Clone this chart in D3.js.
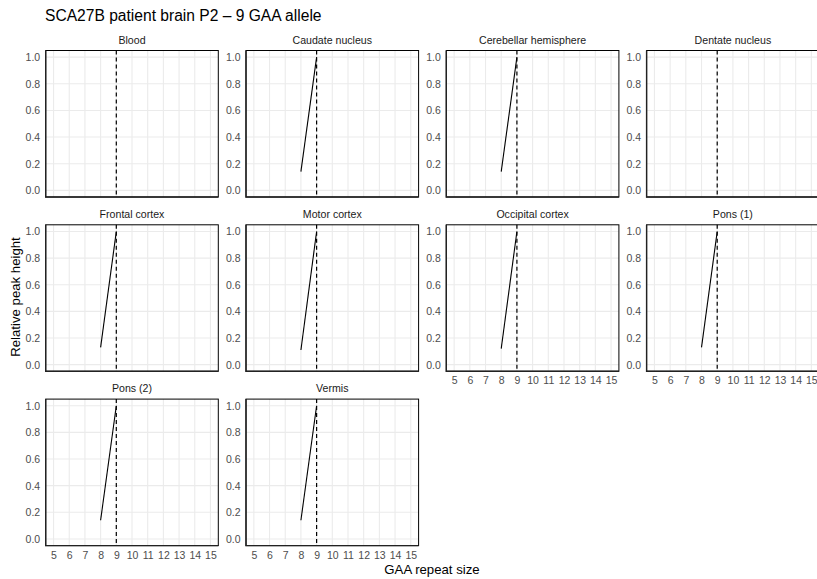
<!DOCTYPE html>
<html>
<head>
<meta charset="utf-8">
<script src="https://cdn.jsdelivr.net/npm/d3@7"></script>
<style>
  body { margin: 0; background: #fff; }
  text { font-family: "Liberation Sans", Arial, sans-serif; }
</style>
</head>
<body>
<svg id="chart" width="817" height="579"></svg>
<script>
// ---- data ----
const title = "SCA27B patient brain P2 \u2013 9 GAA allele";
const tissues = ["Blood", "Caudate nucleus", "Cerebellar hemisphere", "Dentate nucleus",
  "Frontal cortex", "Motor cortex", "Occipital cortex", "Pons (1)", "Pons (2)", "Vermis"];
const repeatSizes = [8, 9];
// relative peak heights at repeat sizes 8 and 9 (null = no peak)
const peakHeights = [
  [null, 1.0],
  [0.14, 1.0],
  [0.14, 1.0],
  [null, 1.0],
  [0.13, 1.0],
  [0.11, 1.0],
  [0.12, 1.0],
  [0.13, 1.0],
  [0.14, 1.0],
  [0.14, 1.0]
];
const alleleSize = 9;
const xTicks = [5, 6, 7, 8, 9, 10, 11, 12, 13, 14, 15];
const yTicks = [0, 0.2, 0.4, 0.6, 0.8, 1.0];
const xLabel = "GAA repeat size";
const yLabel = "Relative peak height";

// ---- layout ----
const svg = d3.select("#chart");
const nCol = 4;
const left0 = 45.7, top0 = 50.5;
const pw = 172.6, ph = 146.5;
const stepX = 200.3, stepY = 174.3;
const tickFont = 10.5;

const x = d3.scaleLinear().domain([4.5, 15.5]).range([0, pw]);
const y = d3.scaleLinear().domain([-0.05, 1.05]).range([ph, 0]);

svg.append("text")
  .attr("x", 45).attr("y", 20.5)
  .attr("font-size", 15.6).attr("fill", "#000")
  .text(title);

tissues.forEach((name, i) => {
  const col = i % nCol, row = Math.floor(i / nCol);
  const g = svg.append("g")
    .attr("transform", `translate(${left0 + col * stepX},${top0 + row * stepY})`);

  // strip label
  g.append("text")
    .attr("x", pw / 2).attr("y", -7)
    .attr("text-anchor", "middle")
    .attr("font-size", 10.6).attr("fill", "#1a1a1a")
    .text(name);

  // grid
  g.append("g").selectAll("line").data(xTicks).join("line")
    .attr("x1", d => x(d)).attr("x2", d => x(d))
    .attr("y1", 0).attr("y2", ph)
    .attr("stroke", "#ebebeb").attr("stroke-width", 1.1);
  g.append("g").selectAll("line").data(yTicks).join("line")
    .attr("x1", 0).attr("x2", pw)
    .attr("y1", d => y(d)).attr("y2", d => y(d))
    .attr("stroke", "#ebebeb").attr("stroke-width", 1.1);

  // dashed allele line
  g.append("line")
    .attr("x1", x(alleleSize)).attr("x2", x(alleleSize))
    .attr("y1", 0).attr("y2", ph)
    .attr("stroke", "#000").attr("stroke-width", 1.2)
    .attr("stroke-dasharray", "4,3");

  // data line
  const pts = repeatSizes.map((r, k) => ({ r, v: peakHeights[i][k] })).filter(p => p.v !== null);
  if (pts.length > 1) {
    g.append("path")
      .datum(pts)
      .attr("fill", "none").attr("stroke", "#000").attr("stroke-width", 1.1)
      .attr("d", d3.line().x(p => x(p.r)).y(p => y(p.v)));
  }

  // border
  g.append("rect")
    .attr("x", 0).attr("y", 0).attr("width", pw).attr("height", ph)
    .attr("fill", "none").attr("stroke", "#000").attr("stroke-width", 1);
  g.append("path")
    .attr("d", `M0,0V${ph}H${pw}`)
    .attr("fill", "none").attr("stroke", "#222").attr("stroke-width", 1.4);

  // y axis
  const ya = g.append("g").call(d3.axisLeft(y).tickValues(yTicks).tickFormat(d3.format(".1f")).tickSize(0).tickPadding(5.5));
  ya.select(".domain").remove();
  ya.selectAll("text").attr("font-size", tickFont).attr("fill", "#4d4d4d")
    .attr("font-family", "Liberation Sans, Arial, sans-serif");

  // x axis only on bottom panel of each column
  const hasBelow = i + nCol < tissues.length;
  if (!hasBelow) {
    const xa = g.append("g").attr("transform", `translate(0,${ph})`)
      .call(d3.axisBottom(x).tickValues(xTicks).tickFormat(d3.format("d")).tickSize(0).tickPadding(5.5));
    xa.select(".domain").remove();
    xa.selectAll("text").attr("font-size", tickFont).attr("fill", "#4d4d4d")
      .attr("font-family", "Liberation Sans, Arial, sans-serif");
  }
});

// axis titles
svg.append("text")
  .attr("x", 432).attr("y", 573.5)
  .attr("text-anchor", "middle").attr("font-size", 13.2).attr("fill", "#000")
  .text(xLabel);
svg.append("text")
  .attr("transform", `translate(19.5,297) rotate(-90)`)
  .attr("text-anchor", "middle").attr("font-size", 13.2).attr("fill", "#000")
  .text(yLabel);
</script>
</body>
</html>
